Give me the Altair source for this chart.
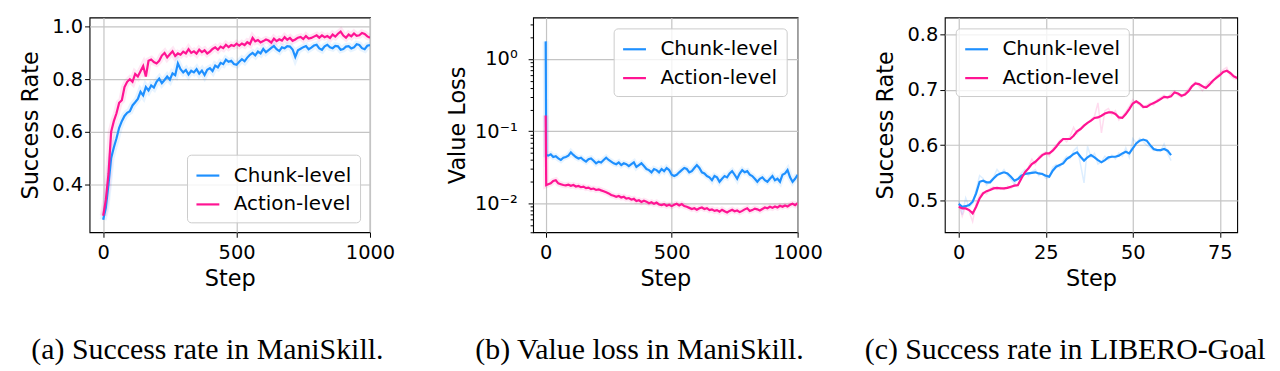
import altair as alt
import pandas as pd

SERIES = ["Chunk-level", "Action-level"]
COLORS = ["#1E90FF", "#FF1493"]

# ---------------- Panel (a): success rate, ManiSkill ----------------
A_STEPS = list(range(0, 1001, 10))
A_CHUNK = [0.265, 0.31, 0.40, 0.50, 0.54, 0.575, 0.615, 0.64, 0.66, 0.672,
           0.678, 0.70, 0.712, 0.725, 0.752, 0.738, 0.77, 0.757, 0.776, 0.768,
           0.79, 0.802, 0.785, 0.797, 0.81, 0.798, 0.822, 0.815, 0.86, 0.838,
           0.826, 0.835, 0.818, 0.832, 0.826, 0.838, 0.821, 0.833, 0.816, 0.836,
           0.842, 0.831, 0.852, 0.845, 0.862, 0.857, 0.874, 0.866, 0.870, 0.858,
           0.855, 0.866, 0.876, 0.868, 0.882, 0.893, 0.900, 0.891, 0.905, 0.898,
           0.915, 0.903, 0.911, 0.919, 0.926, 0.914, 0.907, 0.921, 0.918, 0.926,
           0.924, 0.913, 0.885, 0.910, 0.916, 0.922, 0.926, 0.914, 0.920, 0.928,
           0.931, 0.917, 0.912, 0.925, 0.931, 0.921, 0.918, 0.927, 0.925, 0.912,
           0.915, 0.924, 0.926, 0.917, 0.921, 0.933, 0.930, 0.918, 0.914, 0.927,
           0.930]
A_ACTION = [0.28, 0.34, 0.44, 0.60, 0.64, 0.67, 0.71, 0.72, 0.77, 0.79,
            0.80, 0.79, 0.82, 0.81, 0.83, 0.85, 0.81, 0.87, 0.875, 0.865,
            0.86, 0.87, 0.89, 0.90, 0.883, 0.895, 0.906, 0.888, 0.898, 0.893,
            0.905, 0.898, 0.914, 0.900, 0.906, 0.897, 0.912, 0.903, 0.91, 0.898,
            0.905, 0.915, 0.921, 0.912, 0.924, 0.918, 0.931, 0.922, 0.930, 0.926,
            0.935, 0.928, 0.936, 0.930, 0.941, 0.934, 0.957, 0.944, 0.949, 0.940,
            0.945, 0.951, 0.947, 0.939, 0.954, 0.945, 0.952, 0.947, 0.960, 0.950,
            0.957, 0.946, 0.951, 0.958, 0.961, 0.953, 0.964, 0.955, 0.957, 0.962,
            0.967, 0.958, 0.967, 0.960, 0.964, 0.957, 0.970, 0.962, 0.973, 0.981,
            0.966, 0.958, 0.970, 0.963, 0.974, 0.965, 0.967, 0.976, 0.972, 0.963,
            0.958]

# ---------------- Panel (b): value loss, ManiSkill ----------------
B_STEPS = [0, 2] + list(range(10, 1001, 10))
B_CHUNK = [1.75, 0.047,
           0.046, 0.048, 0.044, 0.045, 0.042, 0.040, 0.043, 0.044, 0.046, 0.051,
           0.047, 0.044, 0.042, 0.043, 0.040, 0.038, 0.041, 0.042, 0.039, 0.036,
           0.038, 0.037, 0.040, 0.043, 0.040, 0.038, 0.036, 0.035, 0.037, 0.034,
           0.036, 0.035, 0.033, 0.035, 0.037, 0.032, 0.034, 0.036, 0.033, 0.030,
           0.029, 0.027, 0.030, 0.029, 0.027, 0.030, 0.028, 0.031, 0.029, 0.025,
           0.024, 0.025, 0.027, 0.029, 0.031, 0.030, 0.027, 0.028, 0.031, 0.034,
           0.031, 0.027, 0.026, 0.024, 0.023, 0.021, 0.024, 0.023, 0.020, 0.022,
           0.024, 0.023, 0.026, 0.028, 0.025, 0.022, 0.026, 0.029, 0.027, 0.028,
           0.025, 0.024, 0.022, 0.020, 0.022, 0.023, 0.021, 0.020, 0.022, 0.024,
           0.021, 0.022, 0.020, 0.025, 0.026, 0.029, 0.023, 0.020, 0.022, 0.025]
B_ACTION = [0.165, 0.018,
            0.0185, 0.019, 0.0205, 0.021, 0.019, 0.0185, 0.018, 0.0178, 0.0182, 0.0176,
            0.0180, 0.0172, 0.0175, 0.0168, 0.0171, 0.0163, 0.0166, 0.0158, 0.0161, 0.0154,
            0.0157, 0.0152, 0.0148, 0.0143, 0.0138, 0.0131, 0.0128, 0.0124, 0.0127, 0.0121,
            0.0124, 0.0117, 0.0119, 0.0113, 0.0116, 0.0108, 0.0111, 0.0105, 0.0109, 0.0106,
            0.0101, 0.0104, 0.0099, 0.0103, 0.0097, 0.0095, 0.0098, 0.0093, 0.0096, 0.0092,
            0.0096, 0.0099, 0.0094, 0.0098, 0.0092, 0.0090, 0.0087, 0.0084, 0.0086, 0.0082,
            0.0086, 0.0088, 0.0084, 0.0086, 0.0081, 0.0083, 0.0079, 0.0081, 0.0077, 0.0082,
            0.0078, 0.0075, 0.0079, 0.0082, 0.0078, 0.0080, 0.0076, 0.0079, 0.0083, 0.0086,
            0.0079, 0.0081, 0.0085, 0.0083, 0.0080, 0.0084, 0.0088, 0.0086, 0.0090, 0.0087,
            0.0091, 0.0088, 0.0093, 0.0090, 0.0094, 0.0091, 0.0096, 0.0099, 0.0095, 0.0101]
B_TICKS = [0.004, 0.005, 0.006, 0.007, 0.008, 0.009, 0.01,
           0.02, 0.03, 0.04, 0.05, 0.06, 0.07, 0.08, 0.09, 0.1,
           0.2, 0.3, 0.4, 0.5, 0.6, 0.7, 0.8, 0.9, 1.0, 2.0, 3.0]

# ---------------- Panel (c): success rate, LIBERO-Goal ----------------
C_STEPS_CHUNK = list(range(0, 62))
C_CHUNK = [0.494, 0.489, 0.490, 0.492, 0.498, 0.513, 0.534, 0.536, 0.533, 0.533,
           0.540, 0.546, 0.549, 0.551, 0.549, 0.543, 0.536, 0.539, 0.545, 0.548,
           0.549, 0.550, 0.551, 0.549, 0.548, 0.545, 0.543, 0.554, 0.561, 0.564,
           0.567, 0.575, 0.579, 0.584, 0.587, 0.579, 0.572, 0.578, 0.582, 0.578,
           0.573, 0.569, 0.573, 0.578, 0.579, 0.579, 0.581, 0.585, 0.588, 0.585,
           0.594, 0.603, 0.608, 0.610, 0.608, 0.600, 0.593, 0.591, 0.591, 0.593,
           0.590, 0.582]
C_CHUNK_RAW = [0.500, 0.475, 0.505, 0.488, 0.495, 0.520, 0.545, 0.540, 0.528, 0.535,
               0.542, 0.556, 0.548, 0.556, 0.545, 0.538, 0.530, 0.540, 0.550, 0.556,
               0.545, 0.552, 0.556, 0.545, 0.550, 0.540, 0.542, 0.560, 0.565, 0.560,
               0.572, 0.580, 0.576, 0.590, 0.596, 0.565, 0.532, 0.598, 0.578, 0.585,
               0.566, 0.570, 0.580, 0.574, 0.582, 0.575, 0.586, 0.580, 0.595, 0.578,
               0.612, 0.604, 0.612, 0.606, 0.600, 0.596, 0.590, 0.592, 0.589, 0.602,
               0.585, 0.572]
C_STEPS_ACTION = list(range(0, 81))
C_ACTION = [0.489, 0.486, 0.486, 0.483, 0.477, 0.489, 0.504, 0.513, 0.517, 0.519,
            0.522, 0.523, 0.522, 0.522, 0.523, 0.525, 0.527, 0.528, 0.540, 0.551,
            0.558, 0.566, 0.570, 0.576, 0.582, 0.585, 0.585, 0.590, 0.597, 0.605,
            0.611, 0.611, 0.611, 0.617, 0.625, 0.629, 0.635, 0.640, 0.644, 0.649,
            0.650, 0.653, 0.657, 0.659, 0.659, 0.656, 0.650, 0.649, 0.656, 0.665,
            0.675, 0.679, 0.675, 0.669, 0.669, 0.673, 0.676, 0.679, 0.683, 0.687,
            0.686, 0.688, 0.695, 0.693, 0.689, 0.691, 0.697, 0.706, 0.711, 0.710,
            0.706, 0.703, 0.709, 0.716, 0.721, 0.726, 0.732, 0.734, 0.730, 0.724,
            0.721]
C_ACTION_RAW = [0.495, 0.472, 0.490, 0.480, 0.462, 0.495, 0.510, 0.515, 0.512, 0.522,
                0.525, 0.520, 0.524, 0.520, 0.526, 0.522, 0.530, 0.525, 0.545, 0.548,
                0.560, 0.575, 0.565, 0.580, 0.584, 0.588, 0.580, 0.594, 0.600, 0.608,
                0.612, 0.606, 0.616, 0.632, 0.620, 0.630, 0.636, 0.640, 0.646, 0.652,
                0.676, 0.622, 0.662, 0.666, 0.655, 0.662, 0.645, 0.652, 0.660, 0.670,
                0.682, 0.676, 0.672, 0.666, 0.672, 0.676, 0.672, 0.682, 0.686, 0.690,
                0.684, 0.694, 0.698, 0.690, 0.686, 0.695, 0.702, 0.708, 0.714, 0.706,
                0.698, 0.708, 0.715, 0.712, 0.725, 0.730, 0.736, 0.740, 0.725, 0.720,
                0.718]

CAPTIONS = ["(a) Success rate in ManiSkill.",
            "(b) Value loss in ManiSkill.",
            "(c) Success rate in LIBERO-Goal"]

FONT = "DejaVu Sans"
SERIF = "Liberation Serif"
GRID = "#c4c4c4"


def long_frame(steps_list, values_list):
    rows = []
    for name, steps, vals in zip(SERIES, steps_list, values_list):
        for s, v in zip(steps, vals):
            rows.append({"step": s, "value": v, "series": name})
    return pd.DataFrame(rows)


def legend(orient, offset):
    return alt.Legend(title=None, orient=orient, offset=offset, symbolType="stroke",
                      symbolSize=529, symbolStrokeWidth=2.2, labelFont=FONT,
                      labelFontSize=20, labelColor="black", labelOffset=13,
                      padding=8, rowPadding=6, fillColor="rgba(255,255,255,0.8)",
                      strokeColor="#cccccc", cornerRadius=4)


def color(lg):
    return alt.Color("series:N", scale=alt.Scale(domain=SERIES, range=COLORS),
                     sort=SERIES, legend=lg)


def x_axis(values):
    return alt.Axis(values=values, format="d", title="Step", titleFont=FONT,
                    titleFontSize=22.5, titleFontWeight="normal", titleColor="black",
                    titleY=53.5, titleBaseline="alphabetic",
                    labelFont=FONT, labelFontSize=19.5, labelColor="black",
                    labelPadding=6, labelFlush=False, labelOverlap=False,
                    tickSize=5, tickColor="black", tickWidth=1,
                    grid=True, gridColor=GRID, gridWidth=1.2, domain=False)


def y_axis(title, title_x, pad=2, font_size=19.5, **kw):
    return alt.Axis(title=title, titleFont=FONT, titleFontSize=22.5,
                    titleFontWeight="normal", titleColor="black", titleX=title_x,
                    titleBaseline="alphabetic", titleAngle=270,
                    labelFont=FONT, labelFontSize=font_size, labelColor="black",
                    labelPadding=pad, labelOverlap=False, labelFlush=False,
                    tickColor="black", tickWidth=1,
                    grid=True, gridColor=GRID, gridWidth=1.2, domain=False, **kw)


def caption(text, dx):
    return alt.TitleParams(text=text, orient="bottom", anchor="middle", frame="group",
                           font=SERIF, fontSize=30, fontWeight="normal", color="black",
                           dx=dx, offset=45)


def faint_layers(df, x, y, width, opacity):
    # one faint layer per series, coloured by value so it adds no legend
    out = []
    for name, col in zip(SERIES, COLORS):
        out.append(alt.Chart(df).transform_filter(alt.datum.series == name)
                   .mark_line(strokeWidth=width, opacity=opacity, color=col, clip=True)
                   .encode(x=x, y=y))
    return out


# ---- panel a ----
df_a = long_frame([A_STEPS, A_STEPS], [A_CHUNK, A_ACTION])
xa = alt.X("step:Q", scale=alt.Scale(domain=[-51, 1000], nice=False, zero=False),
           axis=x_axis([0, 500, 1000]))
ya = alt.Y("value:Q", scale=alt.Scale(domain=[0.217, 1.035], nice=False, zero=False),
           axis=y_axis("Success Rate", -52.5, values=[0.4, 0.6, 0.8, 1.0], format=".1f", tickSize=5))
line_a = alt.Chart(df_a).mark_line(strokeWidth=2.2, clip=True).encode(
    x=xa, y=ya, color=color(legend("bottom-right", 10)))
panel_a = alt.layer(*faint_layers(df_a, xa, ya, 7, 0.1), line_a).properties(
    width=282, height=216, title=caption(CAPTIONS[0], -22.5))

# ---- panel b ----
df_b = long_frame([B_STEPS, B_STEPS], [B_CHUNK, B_ACTION])
MAJOR = "abs(log(datum.value)/LN10 - round(log(datum.value)/LN10)) < 0.000001"
label_expr = ("(" + MAJOR + ") ? (round(log(datum.value)/LN10) == 0 ? '10⁰' : "
              "round(log(datum.value)/LN10) == -1 ? '10⁻¹' : '10⁻²') : ''")
xb = alt.X("step:Q", scale=alt.Scale(domain=[-50, 1000], nice=False, zero=False),
           axis=x_axis([0, 500, 1000]))
yb = alt.Y("value:Q", scale=alt.Scale(type="log", domain=[0.004, 3.75], nice=False),
           axis=y_axis("Value Loss", -68.5, pad=11,
                       font_size={"condition": {"test": MAJOR, "value": 19.5}, "value": 0},
                       values=B_TICKS, labelExpr=label_expr,
                       tickSize={"condition": {"test": MAJOR, "value": 5}, "value": 3},
                       gridOpacity={"condition": {"test": MAJOR, "value": 1}, "value": 0}))
line_b = alt.Chart(df_b).mark_line(strokeWidth=2.2, clip=True).encode(
    x=xb, y=yb, color=color(legend("top-right", 11)))
panel_b = alt.layer(*faint_layers(df_b, xb, yb, 6, 0.1), line_b).properties(
    width=266, height=216, title=caption(CAPTIONS[1], -26))

# ---- panel c ----
df_c = long_frame([C_STEPS_CHUNK, C_STEPS_ACTION], [C_CHUNK, C_ACTION])
df_c_raw = long_frame([C_STEPS_CHUNK, C_STEPS_ACTION], [C_CHUNK_RAW, C_ACTION_RAW])
xc = alt.X("step:Q", scale=alt.Scale(domain=[-4, 80], nice=False, zero=False),
           axis=x_axis([0, 25, 50, 75]))
yc = alt.Y("value:Q", scale=alt.Scale(domain=[0.443, 0.830], nice=False, zero=False),
           axis=y_axis("Success Rate", -52.5, values=[0.5, 0.6, 0.7, 0.8], format=".1f", tickSize=5))
line_c = alt.Chart(df_c).mark_line(strokeWidth=2.2, clip=True).encode(
    x=xc, y=yc, color=color(legend("top-left", 11)))
panel_c = alt.layer(*faint_layers(df_c_raw, xc, yc, 1.5, 0.15), line_c).properties(
    width=294, height=216, title=caption(CAPTIONS[2], -26))


def spacer(w):
    return alt.Chart(pd.DataFrame({"v": [0]})).mark_point(opacity=0).properties(
        width=w, height=216, view=alt.ViewBackground(stroke="transparent"))


chart = alt.hconcat(panel_a, spacer(164), panel_b, spacer(148), panel_c,
                    spacing=0, bounds="flush").resolve_scale(
    color="independent").properties(
    padding={"left": 10, "top": 6.5, "right": 5, "bottom": 5},
    background="white").configure_view(stroke="black", strokeWidth=1.1)

chart.save("out.html", embed_options={"renderer": "svg", "actions": False})
